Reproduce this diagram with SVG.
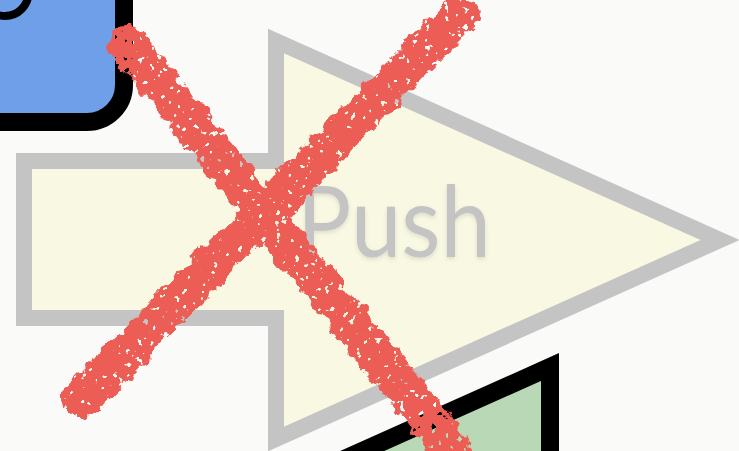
<svg xmlns="http://www.w3.org/2000/svg" width="739" height="451" viewBox="0 0 739 451">
<style>
.blk{stroke:#000;stroke-width:18;stroke-linejoin:miter}
.arrow{fill:#f9f9e3;stroke:#c4c4c4;stroke-width:16;stroke-linejoin:miter}
.label{font-family:Lato,"Open Sans",sans-serif;font-size:99px;fill:#c4c4c4}
.brush{fill:none;stroke:#ec5d57;stroke-width:38;stroke-linecap:round}
</style>
<defs>
<filter id="rough" filterUnits="userSpaceOnUse" x="0" y="0" width="739" height="451">
<feTurbulence type="fractalNoise" baseFrequency="0.07" numOctaves="3" seed="4" result="n"/>
<feDisplacementMap in="SourceGraphic" in2="n" scale="16" xChannelSelector="R" yChannelSelector="G" result="d"/>
<feTurbulence type="fractalNoise" baseFrequency="0.16" numOctaves="2" seed="9" result="n2"/>
<feColorMatrix in="n2" type="matrix" values="0 0 0 0 0  0 0 0 0 0  0 0 0 0 0  -26 0 0 0 18.5" result="holes"/>
<feComposite in="d" in2="holes" operator="in"/>
</filter>
<filter id="soft" x="-10%" y="-10%" width="120%" height="130%">
<feGaussianBlur in="SourceAlpha" stdDeviation="2"/>
<feOffset dy="2" result="b"/>
<feFlood flood-color="#000" flood-opacity="0.12"/>
<feComposite in2="b" operator="in"/>
<feMerge><feMergeNode/><feMergeNode in="SourceGraphic"/></feMerge>
</filter>
</defs>
<rect width="739" height="451" fill="#fafaf8"/>
<g id="blue-node">
<rect class="blk" x="-60" y="-60" width="184" height="182" rx="37" fill="#6f9fe8"/>
<circle cx="5" cy="-7.5" r="23.5" fill="none" stroke="#000" stroke-width="8"/>
</g>
<g id="push-arrow">
<polygon class="arrow" points="24,161 276,161 276,41 720,240 276,439 276,318 24,318"/>
<text class="label" x="297" y="257" textLength="194" lengthAdjust="spacingAndGlyphs" filter="url(#soft)">Push</text>
</g>
<g id="green-node">
<polygon class="blk" points="550,367 550,490 275,490" fill="#b9d8b5"/>
</g>
<g id="cross" filter="url(#rough)">
<path class="brush" d="M128,44 L462,462"/>
<path class="brush" d="M82,398 L458,16"/>
</g>
</svg>
